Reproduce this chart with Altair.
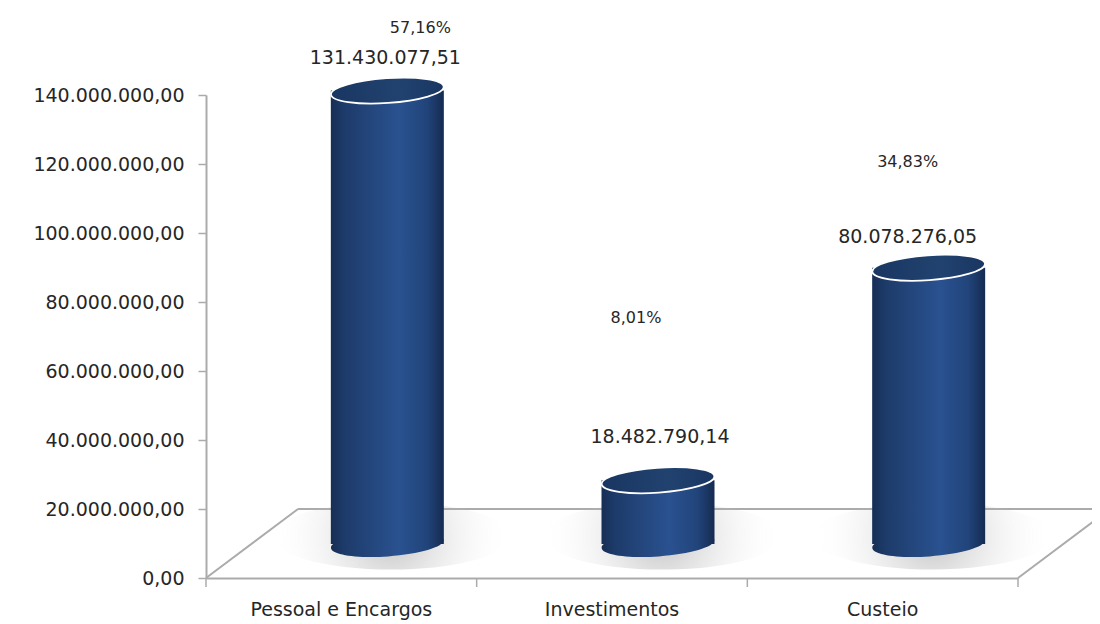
import altair as alt
import pandas as pd

# ---- data ----
categories = ["Pessoal e Encargos", "Investimentos", "Custeio"]
values = [131430077.51, 18482790.14, 80078276.05]
shares = [0.5716, 0.0801, 0.3483]
y_ticks = [0, 20000000, 40000000, 60000000, 80000000, 100000000, 120000000, 140000000]

df = pd.DataFrame({"categoria": categories, "valor": values, "pct": shares, "base": [0, 0, 0]})
one = pd.DataFrame({"k": [0]})

# ---- layout / style ----
W, H = 812, 483
BAR_W = 113
XOFF = 46
YOFF = -34
FONT = "DejaVu Sans"
TXT = "#262626"
GRID = "#ababab"
ELLIPSE = "M -1 0 A 1 0.22 0 1 0 1 0 A 1 0.22 0 1 0 -1 0 Z"
SHADOW = "M -1 0 A 1 0.28 0 1 0 1 0 A 1 0.28 0 1 0 -1 0 Z"

# per-label offsets (dx, dy) as placed in the original
value_off = {"Pessoal e Encargos": (44, -67), "Investimentos": (48, -77), "Custeio": (25, -65)}
pct_off = {"Pessoal e Encargos": (79, -97), "Investimentos": (24, -196), "Custeio": (25, -140)}

x_axis = alt.Axis(
    title=None, ticks=False, labelAngle=0, labelAlign="center", labelBaseline="top",
    labelFont=FONT, labelFontSize=19, labelColor=TXT, labelPadding=22, labelLimit=400,
    domainColor=GRID, domainWidth=2,
)
x_scale = alt.Scale(paddingInner=0, paddingOuter=0)
x_enc = alt.X("categoria:N", sort=categories, scale=x_scale, axis=x_axis)

y_axis = alt.Axis(
    title=None, values=y_ticks, format=",.2f", grid=False, labelFont=FONT,
    labelFontSize=19, labelColor=TXT, labelPadding=14, labelLimit=400, tickSize=8,
    tickWidth=1.5, tickColor=GRID, domainColor=GRID, domainWidth=2,
)
y_scale = alt.Scale(domain=[0, 140000000], nice=False)
y_val = alt.Y("valor:Q", scale=y_scale, axis=y_axis)
y_base = alt.Y("base:Q", scale=y_scale, axis=y_axis)

base = alt.Chart(df)

# floor outline (3D base plane)
floor_left = alt.Chart(one).mark_rule(color=GRID, strokeWidth=2).encode(
    x=alt.value(0), x2=alt.value(92), y=alt.datum(0), y2=alt.datum(20000000)
)
floor_back = alt.Chart(one).mark_rule(color=GRID, strokeWidth=2).encode(
    x=alt.value(92), x2=alt.value(900), y=alt.datum(20000000)
)
floor_right = alt.Chart(one).mark_rule(color=GRID, strokeWidth=2).encode(
    x=alt.value(W), x2=alt.value(W + 92), y=alt.datum(0), y2=alt.datum(20000000)
)

# category tick marks at band boundaries (band start = centre - half band)
HALF_BAND = W / len(categories) / 2
xticks = base.mark_rule(color=GRID, strokeWidth=1.5, xOffset=-HALF_BAND).encode(
    x=x_enc, y=alt.value(H), y2=alt.value(H + 9),
)
xtick_end = alt.Chart(one).mark_rule(color=GRID, strokeWidth=1.5).encode(
    x=alt.value(W), y=alt.value(H), y2=alt.value(H + 9)
)

# soft shadows on the floor
shadow_grad = alt.Gradient(
    gradient="radial",
    stops=[
        alt.GradientStop(offset=0, color="rgba(120,120,120,0.45)"),
        alt.GradientStop(offset=0.5, color="rgba(170,170,170,0.18)"),
        alt.GradientStop(offset=1, color="rgba(255,255,255,0)"),
    ],
)
shadows = base.mark_point(
    shape=SHADOW, filled=True, fill=shadow_grad, strokeWidth=0, opacity=1,
    size=240 * 240, xOffset=XOFF + 4, yOffset=YOFF - 8,
).encode(x=x_enc, y=y_base)

# cylinder bodies
body_grad = alt.Gradient(
    gradient="linear", x1=0, x2=1, y1=0, y2=0,
    stops=[
        alt.GradientStop(offset=0, color="#162e55"),
        alt.GradientStop(offset=0.12, color="#1d3b6a"),
        alt.GradientStop(offset=0.6, color="#2a5290"),
        alt.GradientStop(offset=0.85, color="#21447a"),
        alt.GradientStop(offset=1, color="#152b52"),
    ],
)

# cylinder bottoms
bottoms = base.mark_point(
    shape=ELLIPSE, filled=True, fill=body_grad, strokeWidth=0, opacity=1,
    size=BAR_W * BAR_W, angle=356, xOffset=XOFF, yOffset=YOFF,
).encode(x=x_enc, y=y_base)

bars = base.mark_bar(
    size=BAR_W, color=body_grad, xOffset=XOFF, yOffset=YOFF, y2Offset=YOFF
).encode(x=x_enc, y=y_val, y2=alt.Y2("base:Q"))

# cylinder tops
top_grad = alt.Gradient(
    gradient="linear", x1=0, x2=1, y1=0, y2=0,
    stops=[
        alt.GradientStop(offset=0, color="#1a3662"),
        alt.GradientStop(offset=0.6, color="#21426f"),
        alt.GradientStop(offset=1, color="#1a3662"),
    ],
)
tops = base.mark_point(
    shape=ELLIPSE, filled=True, fill=top_grad, stroke="white", strokeWidth=1.8,
    opacity=1, size=BAR_W * BAR_W, angle=356, xOffset=XOFF, yOffset=YOFF,
).encode(x=x_enc, y=y_val)

layers = [floor_left, floor_back, floor_right, xticks, xtick_end, shadows, bottoms, bars, tops]

for c in categories:
    dx, dy = value_off[c]
    layers.append(
        base.transform_filter(alt.datum.categoria == c)
        .mark_text(font=FONT, fontSize=19, color=TXT, dx=dx, dy=dy, baseline="middle")
        .encode(x=x_enc, y=y_val, text=alt.Text("valor:Q", format=",.2f"))
    )
    px, py = pct_off[c]
    layers.append(
        base.transform_filter(alt.datum.categoria == c)
        .mark_text(font=FONT, fontSize=16, color=TXT, dx=px, dy=py, baseline="middle")
        .encode(x=x_enc, y=y_val, text=alt.Text("pct:Q", format=".2%"))
    )

chart = (
    alt.layer(*layers)
    .properties(
        width=W, height=H,
        autosize=alt.AutoSizeParams(type="none"),
        padding={"left": 198, "top": 87, "right": 74, "bottom": 46},
        background="white",
    )
    .configure(
        locale={"number": {"decimal": ",", "thousands": ".", "grouping": [3], "currency": ["R$", ""]}},
        view={"stroke": "transparent", "strokeWidth": 0},
    )
)

chart.save("out.html", embed_options={"renderer": "svg", "actions": False})
